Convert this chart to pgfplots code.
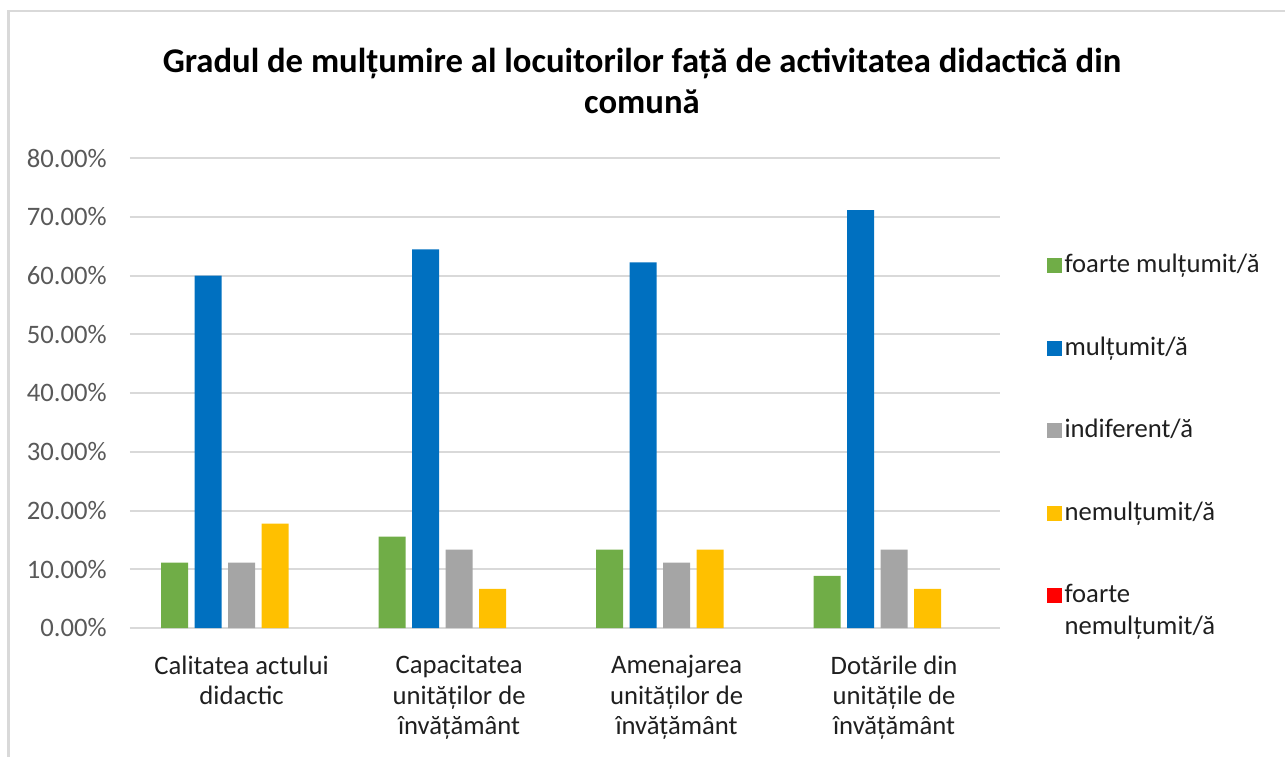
\documentclass[border=0pt]{standalone}
\usepackage{pgfplots}
\pgfplotsset{compat=1.18}
\usepackage{fontspec}
\setmainfont{Carlito}
\definecolor{cgreen}{HTML}{70AD47}
\definecolor{cblue}{HTML}{0070C0}
\definecolor{cgray}{HTML}{A5A5A5}
\definecolor{cyellow}{HTML}{FFC000}
\definecolor{cred}{HTML}{FF0000}
\definecolor{gridc}{HTML}{D9D9D9}
\definecolor{ticktxt}{HTML}{595959}
\definecolor{labtxt}{HTML}{1F1F1F}

\begin{document}
\begin{tikzpicture}
% page size, 1px = 0.375pt, origin at the lower left corner of the plot area
\path[use as bounding box] (-48.75pt,-48pt) rectangle (433.125pt,235.5pt);
\draw[gridc, line width=0.9pt] (-45.5pt,-60pt) -- (-45.5pt,231.4pt) -- (460pt,231.4pt);

\begin{axis}[
  scale only axis,
  width=326.25pt, height=176.25pt,
  ybar=2.44pt, bar width=10.125pt,
  xmin=-0.513, xmax=3.487,
  ymin=0, ymax=80,
  xtick={0,1,2,3},
  xticklabels={{Calitatea actului\\didactic},{Capacitatea\\unităților de\\învățământ},{Amenajarea\\unităților de\\învățământ},{Dotările din\\unitățile de\\învățământ}},
  ytick={0,10,...,80},
  yticklabel={\pgfmathprintnumber[fixed,fixed zerofill,precision=2]{\tick}\%},
  /pgf/number format/assume math mode=true,
  axis line style={draw=none},
  major tick length=0pt,
  ymajorgrids,
  grid style={gridc, line width=0.75pt},
  xticklabel style={align=center, font=\fontsize{10}{11.4}\selectfont, text=labtxt, yshift=-6.8pt},
  yticklabel style={font=\fontsize{10}{11}\selectfont, text=ticktxt, xshift=-5.2pt},
  title={Gradul de mulțumire al locuitorilor față de activitatea didactică din\\comună},
  title style={at={(rel axis cs:0.5885,1)}, anchor=south, align=center, inner sep=0pt,
    font=\fontsize{13}{15.4}\selectfont\bfseries, yshift=10.5pt},
  every axis plot/.append style={draw=none,
    legend image code/.code={\fill[##1] (0pt,-2.8pt) rectangle (5.6pt,2.8pt);}},
  legend style={at={(1.054,1)}, anchor=north west, draw=none, fill=none,
    inner sep=0pt, outer sep=0pt, yshift=-35.1pt, row sep=20.5pt,
    font=\fontsize{10}{12}\selectfont, text=labtxt,
    nodes={inner sep=1pt, align=left},
    /tikz/every even column/.append style={column sep=2pt}},
  legend cell align=left,
]
\addplot[fill=cgreen] coordinates {(0,11.11) (1,15.56) (2,13.33) (3,8.89)};
\addlegendentry{foarte mulțumit/ă}
\addplot[fill=cblue] coordinates {(0,60.00) (1,64.44) (2,62.22) (3,71.11)};
\addlegendentry{mulțumit/ă}
\addplot[fill=cgray] coordinates {(0,11.11) (1,13.33) (2,11.11) (3,13.33)};
\addlegendentry{indiferent/ă}
\addplot[fill=cyellow] coordinates {(0,17.78) (1,6.67) (2,13.33) (3,6.67)};
\addlegendentry{nemulțumit/ă}
\addplot[fill=none, legend image code/.code={\fill[cred] (0pt,3.3pt) rectangle (5.6pt,8.9pt);}]
  coordinates {(0,0) (1,0) (2,0) (3,0)};
\addlegendentry{foarte\\nemulțumit/ă}
\end{axis}
\end{tikzpicture}
\end{document}
